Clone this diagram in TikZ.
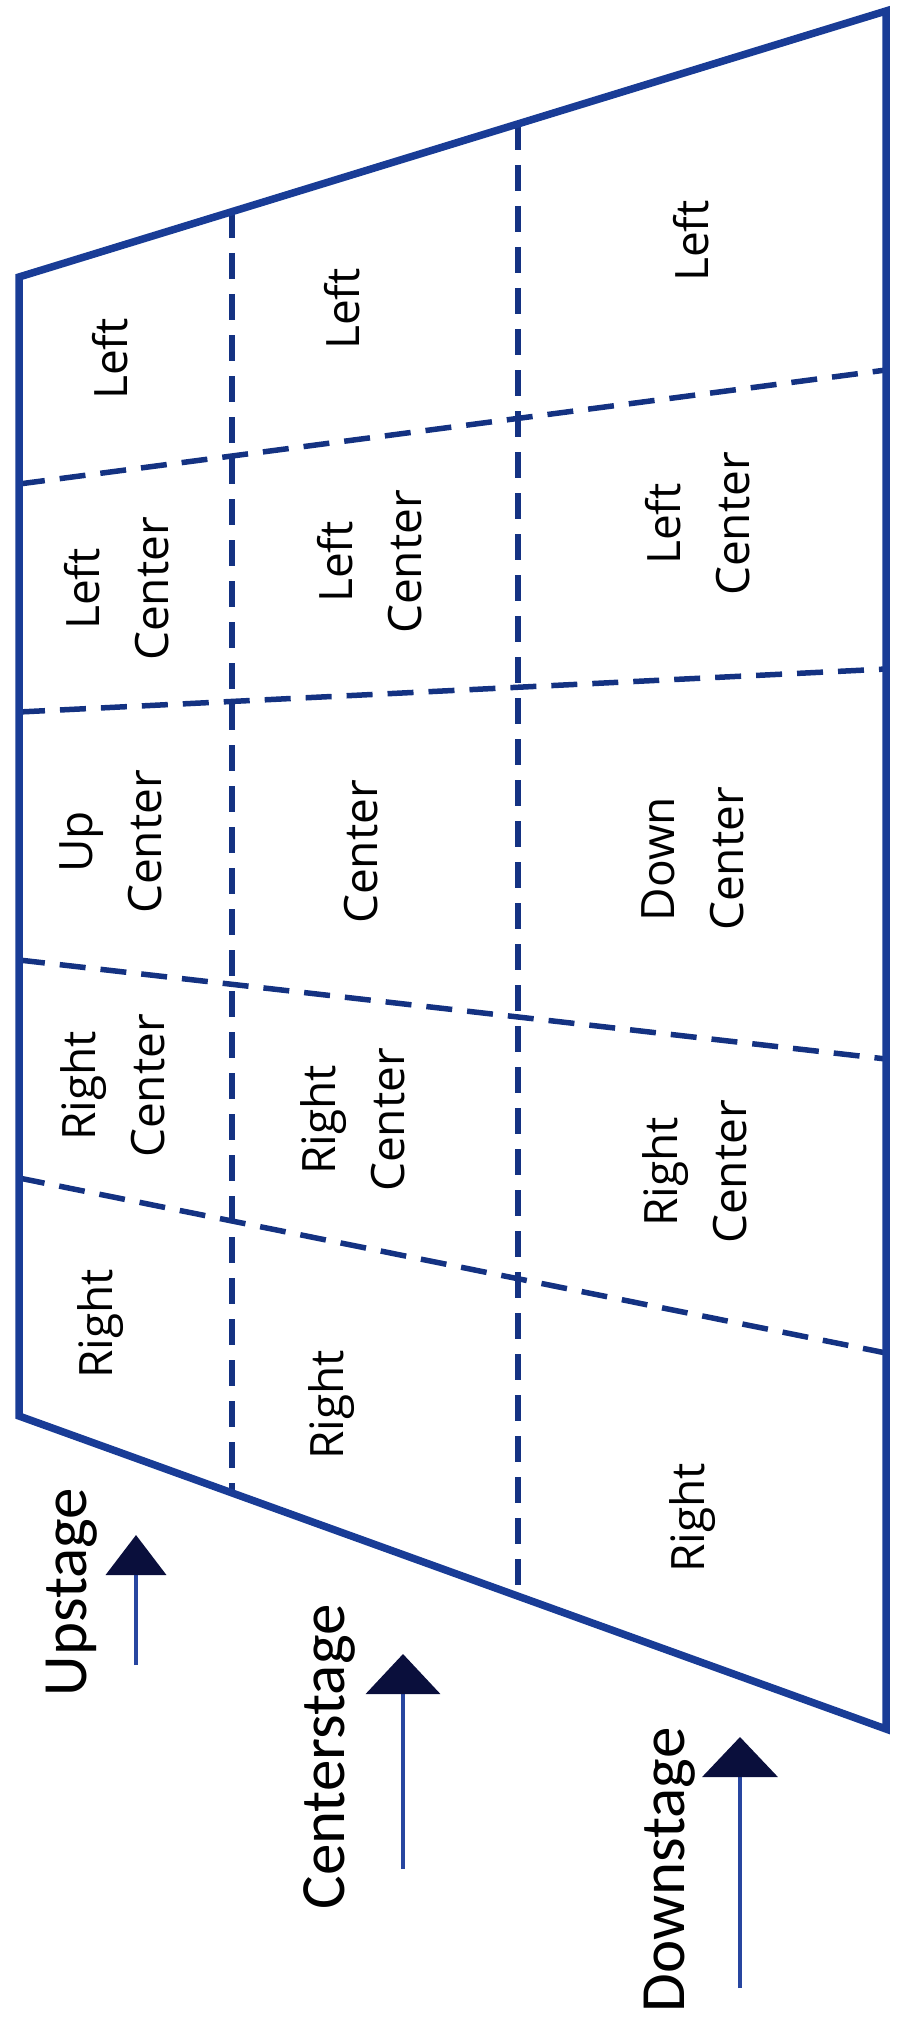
\documentclass[tikz,border=0pt]{standalone}
\usepackage{fontspec}
\newfontfamily\lblfont{Carlito}
\newfontfamily\cellfont{Open Sans}
\usetikzlibrary{arrows.meta}
\definecolor{stageblue}{RGB}{25,60,150}
\definecolor{dashblue}{RGB}{20,50,130}
\definecolor{arrowblue}{RGB}{40,70,160}
\definecolor{headnavy}{RGB}{10,15,60}
\begin{document}
\begin{tikzpicture}[x=1pt,y=-1pt,
  outline/.style={draw=stageblue,line width=7.5pt,line join=miter},
  divider/.style={draw=dashblue,line width=5.5pt,dash pattern=on 26pt off 15pt},
  cell/.style={rotate=90,align=center,font=\cellfont\fontsize{46}{69}\selectfont,text=black,inner sep=0pt},
  lbl/.style={rotate=90,font=\lblfont\fontsize{63}{70}\selectfont,text=black,inner sep=0pt},
  dirarrow/.style={draw=arrowblue,line width=4pt,-{Triangle[width=#1,length=40pt,color=headnavy]}}]
\useasboundingbox (0,0) rectangle (897,2017);
% stage corners
\coordinate (TL) at (19,277);
\coordinate (TR) at (886,11);
\coordinate (BR) at (886,1729);
\coordinate (BL) at (19,1416);
% section dividers (upstage / centerstage / downstage)
\coordinate (V1t) at (232,212);
\coordinate (V1b) at (232,1493);
\coordinate (V2t) at (518,124);
\coordinate (V2b) at (518,1596);
% left-right dividers
\coordinate (L1a) at (19,484);  \coordinate (L1b) at (886,370);
\coordinate (L2a) at (19,712);  \coordinate (L2b) at (886,669);
\coordinate (L3a) at (19,960);  \coordinate (L3b) at (886,1059);
\coordinate (L4a) at (19,1178); \coordinate (L4b) at (886,1353);
\draw[divider] (V1t) -- (V1b);
\draw[divider] (V2t) -- (V2b);
\draw[divider] (L1a) -- (L1b);
\draw[divider] (L2a) -- (L2b);
\draw[divider] (L3a) -- (L3b);
\draw[divider] (L4a) -- (L4b);
\draw[outline] (TL) -- (TR) -- (BR) -- (BL) -- cycle;
% upstage column
\node[cell] (u1) at (110,359) {Left};
\node[cell] (u2) at (117,589) {Left\\Center};
\node[cell] (u3) at (111,842) {Up\\Center};
\node[cell] (u4) at (113,1086) {Right\\Center};
\node[cell] (u5) at (101,1324) {Right};
% centerstage column
\node[cell] (c1) at (342,309) {Left};
\node[cell] (c2) at (370,562) {Left\\Center};
\node[cell] (c3) at (361,852) {Center};
\node[cell] (c4) at (353,1120) {Right\\Center};
\node[cell] (c5) at (332,1405) {Right};
% downstage column
\node[cell] (d1) at (691,241) {Left};
\node[cell] (d2) at (698,524) {Left\\Center};
\node[cell] (d3) at (693,859) {Down\\Center};
\node[cell] (d4) at (695,1172) {Right\\Center};
\node[cell] (d5) at (693,1518) {Right};
% direction labels and arrows
\node[lbl] (up) at (72,1592) {Upstage};
\node[lbl] (cs) at (329,1757) {Centerstage};
\node[lbl] (ds) at (670,1870) {Downstage};
\coordinate (upT) at (136,1665); \coordinate (upH) at (136,1535);
\coordinate (csT) at (403,1869); \coordinate (csH) at (403,1654);
\coordinate (dsT) at (740,1988); \coordinate (dsH) at (740,1737);
\draw[dirarrow=60pt] (upT) -- (upH);
\draw[dirarrow=74pt] (csT) -- (csH);
\draw[dirarrow=75pt] (dsT) -- (dsH);
\end{tikzpicture}
\end{document}
